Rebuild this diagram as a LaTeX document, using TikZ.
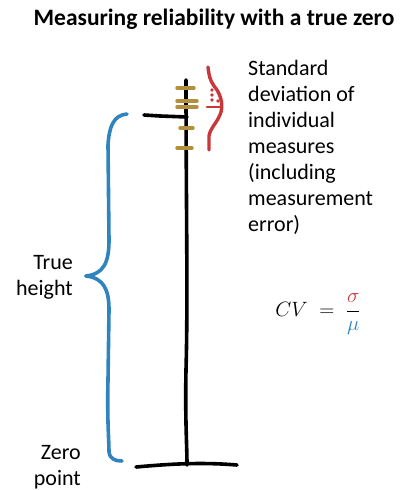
\documentclass[tikz,border=0pt]{standalone}
\usepackage{amsmath}
\usepackage{fontspec}
\setmainfont{Carlito}
\usetikzlibrary{positioning}
\definecolor{poleblack}{HTML}{000000}
\definecolor{measgold}{HTML}{B38E3D}
\definecolor{sdred}{HTML}{C8373A}
\definecolor{trueblue}{HTML}{2F84BE}

\begin{document}
\begin{tikzpicture}[x=1pt,y=-1pt,
      ink/.style={line width=3.6pt,line cap=round,line join=round},
      pole/.style={ink,poleblack},
      tickmark/.style={ink,measgold,line width=3.4pt},
      sdcurve/.style={ink,sdred,line width=3.4pt},
      bracestroke/.style={ink,trueblue,line width=3.6pt},
      lbl/.style={font=\fontsize{22}{26}\selectfont,inner sep=0pt}]
    \useasboundingbox (0,0) rectangle (404,490);
    % title
    \node[font=\bfseries\fontsize{23.5}{26}\selectfont,inner sep=0pt](title) at (214,19)
      {Measuring reliability with a true zero};
    % the pole, its foot and the arm
    \draw[pole] (186,80) .. controls (186,200) and (188,300) .. (186,370)
      .. controls (185,420) and (187,445) .. (187,465);
    \draw[pole] (136,467) .. controls (170,464) and (200,462) .. (237,465);
    \draw[pole] (144,115) -- (160,116) -- (187,117);
    % individual measures
    \foreach \y/\l/\r in {88/177/194,101/177/197,107/177/197,128/180/193,148/177/192}
      \draw[tickmark] (\l,\y) -- (\r,\y);
    % spread of the measures
    \draw[sdcurve] (208,67) .. controls (209,76) and (210,80) .. (214,86)
      .. controls (221,94) and (223,104) .. (221,112)
      .. controls (218,122) and (210,128) .. (209,136) -- (209,150);
    \draw[sdcurve,line width=2.6pt] (207,107) -- (222,107);
    \foreach \x/\y in {212/90,212/95,212/100,218/101}
      \fill[sdred] (\x,\y) circle (1.8);
    % brace for the true height
    \draw[bracestroke] (127,114) .. controls (113,115) and (109,128) .. (108,145)
      -- (109,240) .. controls (109,262) and (104,274) .. (86,276);
    \draw[bracestroke] (86,276) .. controls (104,278) and (109,290) .. (109,310)
      -- (108,380) .. controls (107,420) and (109,440) .. (109,452)
      .. controls (110,459) and (115,461) .. (122,461);
    % labels
    \node[lbl,align=left,anchor=north west](sdlabel) at (248,60)
      {Standard\\deviation of\\individual\\measures\\(including\\measurement\\error)};
    \node[lbl,align=right,anchor=east](truelabel) at (73,277) {True\\height};
    \node[lbl,align=right,anchor=east](zerolabel) at (81,467) {Zero\\point};
    \node[font=\fontsize{22}{24}\selectfont,inner sep=0pt](cvlabel) at (318,314)
      {$CV \;=\; \dfrac{\color{sdred}\sigma}{\color{trueblue}\mu}$};
  \end{tikzpicture}
\end{document}
